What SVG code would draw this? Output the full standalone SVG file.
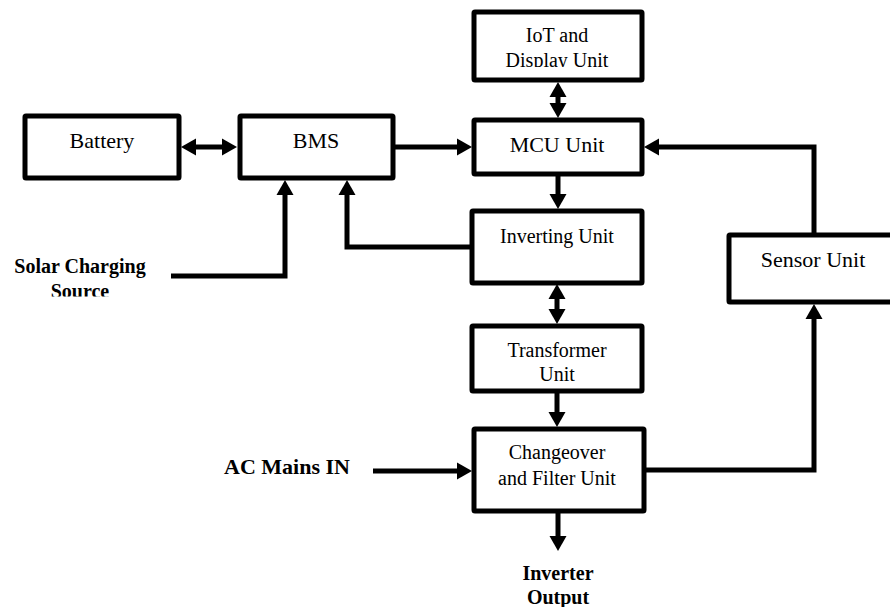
<svg xmlns="http://www.w3.org/2000/svg" width="890" height="607" viewBox="0 0 890 607">
<style>
.box{fill:#fff;stroke:#000;stroke-width:5;}
.t{fill:#000;text-anchor:middle;}
.r22{font-size:22px;}
.r20{font-size:20px;}
.b{font-weight:bold;}
.c{fill:none;stroke:#000;stroke-width:5;}
.a{marker-end:url(#ah);}
.d{marker-start:url(#ah);marker-end:url(#ah);}
</style>
<defs>
<marker id="ah" markerUnits="userSpaceOnUse" markerWidth="16" markerHeight="18" refX="0" refY="8.5" viewBox="0 0 16 17" orient="auto-start-reverse" overflow="visible">
<path d="M0,0 L15,8.5 L0,17 z" fill="#000"/>
</marker>
<clipPath id="clipDisp"><rect x="470" y="0" width="180" height="67"/></clipPath>
<clipPath id="clipSrc"><rect x="0" y="250" width="170" height="46.5"/></clipPath>
</defs>
<rect width="890" height="607" fill="#fff"/>

<g id="connectors">
<path class="c d" d="M196,147 L222,147"/>
<path class="c a" d="M171,276 L285,276 L285,195"/>
<path class="c a" d="M470,247 L347,247 L347,195"/>
<path class="c a" d="M393,147 L457,147"/>
<path class="c d" d="M558,97 L558,103"/>
<path class="c a" d="M558,174 L558,194"/>
<path class="c a" d="M814,235 L814,147 L659,147"/>
<path class="c d" d="M557,299 L557,309"/>
<path class="c a" d="M557,391 L557,412"/>
<path class="c a" d="M373,471 L457,471"/>
<path class="c a" d="M558,511 L558,536"/>
<path class="c a" d="M644,470 L814,470 L814,319"/>
</g>

<g font-family="Liberation Serif, DejaVu Serif, serif">
<g id="battery">
<rect class="box" x="25" y="116" width="154" height="62" rx="1"/>
<text class="t r22" x="102" y="148">Battery</text>
</g>
<g id="bms">
<rect class="box" x="240" y="116" width="153" height="62" rx="1"/>
<text class="t r22" x="316" y="148">BMS</text>
</g>
<g id="iot">
<rect class="box" x="474" y="12" width="168" height="68" rx="1"/>
<text class="t r20" x="557" y="42">IoT and</text>
<text class="t r20" x="557" y="67" clip-path="url(#clipDisp)">Display Unit</text>
</g>
<g id="mcu">
<rect class="box" x="474" y="120" width="168" height="54" rx="1"/>
<text class="t r22" x="557" y="152">MCU Unit</text>
</g>
<g id="inverting">
<rect class="box" x="472" y="211" width="170" height="72" rx="1"/>
<text class="t r20" x="557" y="243">Inverting Unit</text>
</g>
<g id="sensor">
<rect class="box" x="729" y="235" width="200" height="67" rx="1"/>
<text class="t r22" x="813" y="267">Sensor Unit</text>
</g>
<g id="transformer">
<rect class="box" x="472" y="326" width="170" height="65" rx="1"/>
<text class="t r20" x="557" y="357">Transformer</text>
<text class="t r20" x="557" y="381">Unit</text>
</g>
<g id="changeover">
<rect class="box" x="474" y="429" width="170" height="82" rx="1"/>
<text class="t r20" x="557" y="459">Changeover</text>
<text class="t r20" x="557" y="485">and Filter Unit</text>
</g>
<g id="solar">
<text class="t r20 b" x="80" y="273">Solar Charging</text>
<text class="t r20 b" x="80" y="298" clip-path="url(#clipSrc)">Source</text>
</g>
<g id="acmains">
<text class="t r22 b" x="287" y="474">AC Mains IN</text>
</g>
<g id="output">
<text class="t r20 b" x="558" y="580">Inverter</text>
<text class="t r20 b" x="558" y="604">Output</text>
</g>
</g>
</svg>
